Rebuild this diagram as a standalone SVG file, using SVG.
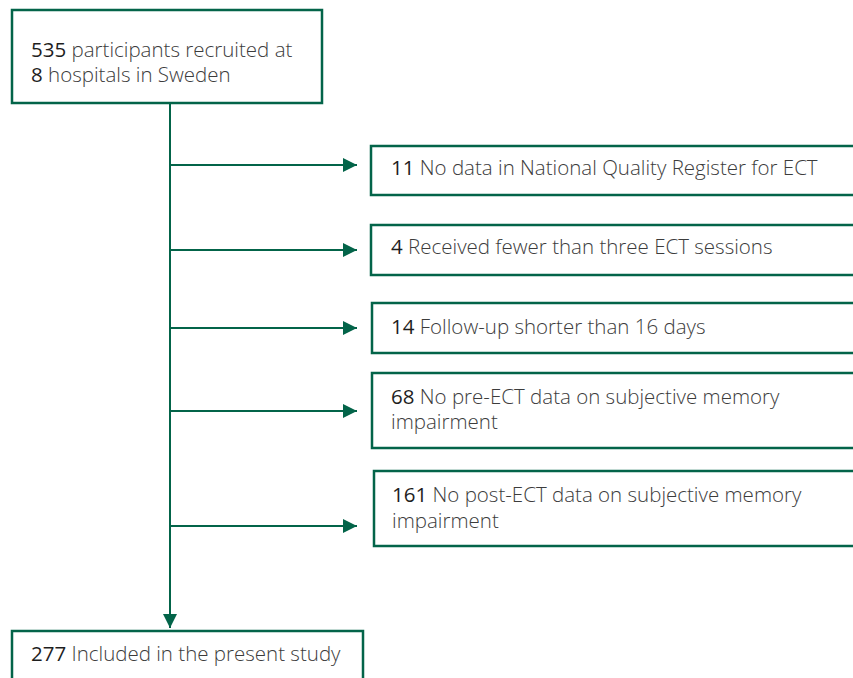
<svg xmlns="http://www.w3.org/2000/svg" width="853" height="678" viewBox="0 0 853 678">
<defs>
<style>
.box{fill:#fff;stroke:#036449;stroke-width:2.5}
.conn{stroke:#036449;stroke-width:2;fill:none}
text{font-family:"Open Sans","Noto Sans","Liberation Sans",sans-serif;font-size:20.5px;fill:#3c3c3c;font-weight:300}
.n{font-weight:400;fill:#1e1e1e}
</style>
<marker id="ah" viewBox="0 0 14 14" refX="14" refY="7" markerWidth="14" markerHeight="14" markerUnits="userSpaceOnUse" orient="auto">
<path d="M0,0 L14,7 L0,14 Z" fill="#036449"/>
</marker>
</defs>
<rect width="853" height="678" fill="#fff"/>
<g id="connectors">
<line class="conn" x1="170" y1="103" x2="170" y2="628" marker-end="url(#ah)"/>
<line class="conn" x1="170" y1="165" x2="357" y2="165" marker-end="url(#ah)"/>
<line class="conn" x1="170" y1="250" x2="357" y2="250" marker-end="url(#ah)"/>
<line class="conn" x1="170" y1="328" x2="357" y2="328" marker-end="url(#ah)"/>
<line class="conn" x1="170" y1="411" x2="357" y2="411" marker-end="url(#ah)"/>
<line class="conn" x1="170" y1="526" x2="357" y2="526" marker-end="url(#ah)"/>
</g>
<g id="recruited">
<rect class="box" x="12" y="10" width="310" height="93"/>
<text x="31" y="57"><tspan class="n">535</tspan> participants recruited at</text>
<text x="31" y="82"><tspan class="n">8</tspan> hospitals in Sweden</text>
</g>
<g id="excl1">
<rect class="box" x="371" y="146" width="500" height="49"/>
<text x="391" y="175"><tspan class="n">11</tspan> No data in National Quality Register for ECT</text>
</g>
<g id="excl2">
<rect class="box" x="371" y="225" width="500" height="50"/>
<text x="391" y="254"><tspan class="n">4</tspan> Received fewer than three ECT sessions</text>
</g>
<g id="excl3">
<rect class="box" x="372" y="303" width="500" height="50"/>
<text x="391" y="334"><tspan class="n">14</tspan> Follow-up shorter than 16 days</text>
</g>
<g id="excl4">
<rect class="box" x="372" y="373" width="500" height="75"/>
<text x="391" y="404"><tspan class="n">68</tspan> No pre-ECT data on subjective memory</text>
<text x="391" y="429">impairment</text>
</g>
<g id="excl5">
<rect class="box" x="374" y="471" width="500" height="75"/>
<text x="392" y="502"><tspan class="n">161</tspan> No post-ECT data on subjective memory</text>
<text x="392" y="528">impairment</text>
</g>
<g id="included">
<rect class="box" x="12" y="631" width="351" height="60"/>
<text x="31" y="661"><tspan class="n">277</tspan> Included in the present study</text>
</g>
</svg>
